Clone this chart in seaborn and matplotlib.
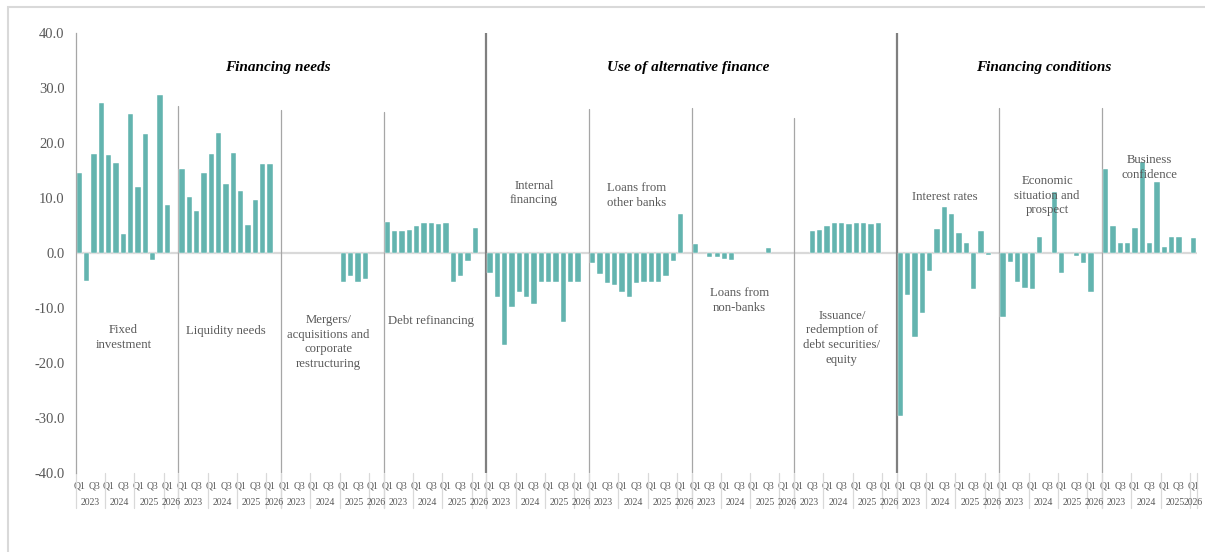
import numpy as np
import pandas as pd
import matplotlib
matplotlib.use("Agg")
import matplotlib.pyplot as plt
import matplotlib.transforms as mtransforms
from matplotlib.patches import Rectangle
import seaborn as sns

nan = np.nan

# quarters shown in every panel (Q1 2023 .. Q1 2026)
quarters = ["Q1", "Q2", "Q3", "Q4"] * 3 + ["Q1"]
years = ["2023", "2024", "2025", "2026"]

panel_names = [
    "Fixed\ninvestment",
    "Liquidity needs",
    "Mergers/\nacquisitions and\ncorporate\nrestructuring",
    "Debt refinancing",
    "Internal\nfinancing",
    "Loans from\nother banks",
    "Loans from\nnon-banks",
    "Issuance/\nredemption of\ndebt securities/\nequity",
    "Interest rates",
    "Economic\nsituation and\nprospect",
    "Business\nconfidence",
]
group_names = ["Financing needs", "Use of alternative finance", "Financing conditions"]

fixed_investment = [14.6, -5.0, 18.0, 27.2, 17.9, 16.4, 3.5, 25.3, 12.0, 21.7, -1.2, 28.7, 8.7]
liquidity_needs = [15.3, 10.2, 7.6, 14.5, 18.0, 21.8, 12.5, 18.2, 11.2, 5.1, 9.6, 16.1, 16.1]
mergers = [nan, nan, nan, nan, nan, nan, nan, nan, -5.3, -4.1, -5.3, -4.7, nan]
debt_refinancing = [5.7, 4.0, 4.0, 4.2, 5.0, 5.5, 5.5, 5.3, 5.5, -5.3, -4.2, -1.4, 4.5]
internal_financing = [-3.7, -8.0, -16.8, -9.8, -7.1, -8.0, -9.2, -5.2, -5.3, -5.3, -12.5, -5.3, -5.2]
other_banks = [-1.9, -3.9, -5.4, -5.9, -7.1, -8.0, -5.4, -5.2, -5.3, -5.3, -4.2, -1.4, 7.1]
non_banks = [1.7, nan, -0.7, -0.8, -1.1, -1.3, nan, nan, nan, nan, 1.0, nan, nan]
issuance = [nan, nan, 4.0, 4.1, 5.0, 5.5, 5.5, 5.3, 5.5, 5.5, 5.3, 5.5, nan]
interest_rates = [-29.7, -7.7, -15.2, -10.9, -3.3, 4.3, 8.3, 7.1, 3.6, 1.9, -6.5, 4.0, -0.3]
economic = [-11.7, -1.7, -5.2, -6.4, -6.5, 2.9, nan, 11.1, -3.7, nan, -0.6, -1.9, -7.1]
business = [15.2, 4.9, 1.75, 1.75, 4.6, 16.5, 1.9, 12.9, 1.1, 2.9, 2.9, nan, 2.7]

series = [fixed_investment, liquidity_needs, mergers, debt_refinancing,
          internal_financing, other_banks, non_banks, issuance,
          interest_rates, economic, business]

# layout of the labels (data units)
label_y = [-15.3, -14.2, -16.2, -12.4, 10.9, 10.5, -8.7, -15.4, 10.2, 10.4, 15.6]
divider_top = [26.7, 26.0, 25.6, 40, 26.1, 26.3, 24.6, 40, 26.3, 26.3]
bar_color = "#63b4af"
text_grey = "#595959"

# each panel = 13 quarters + one blank slot (not after the last panel)
n_panels = len(series)
step = 14
rows = []
order = []
for p, vals in enumerate(series):
    for q in range(13):
        key = f"p{p}_{q}"
        order.append(key)
        if not np.isnan(vals[q]):
            rows.append({"slot": key, "value": vals[q]})
    if p < n_panels - 1:
        order.append(f"gap{p}")
df = pd.DataFrame(rows)

sns.set_style("white")
plt.rcParams["font.family"] = ["Liberation Serif", "DejaVu Serif"]

fig = plt.figure(figsize=(12.05, 5.52), dpi=100)
ax = fig.add_axes([75.8 / 1205, 79 / 552, 1121.5 / 1205, 440 / 552])

ax.axhline(0, color="#d9d9d9", lw=1.6, zorder=0)
sns.barplot(data=df, x="slot", y="value", order=order, color=bar_color,
            width=0.72, errorbar=None, saturation=1, ax=ax, zorder=2,
            edgecolor="white", linewidth=0.3)

ax.set_ylim(-40, 40)
ax.set_xlim(-0.5, len(order) - 0.5)
ax.set_yticks(np.arange(-40, 41, 10))
ax.set_yticklabels([f"{v:.1f}" for v in np.arange(-40, 41, 10)])
ax.tick_params(axis="y", direction="in", length=4, color="#a6a6a6",
               labelsize=10.5, labelcolor=text_grey, pad=8)
ax.set_xlabel("")
ax.set_ylabel("")
for s in ["top", "right", "bottom"]:
    ax.spines[s].set_visible(False)
ax.spines["left"].set_color("#a6a6a6")
ax.spines["left"].set_linewidth(0.9)

# quarter tick labels (Q1, Q3 alternately)
qpos, qlab = [], []
for p in range(n_panels):
    for q in range(0, 13, 2):
        qpos.append(p * step + q)
        qlab.append(quarters[q])
ax.set_xticks(qpos)
ax.set_xticklabels(qlab)
ax.tick_params(axis="x", length=0, labelsize=7, labelcolor=text_grey, pad=6)

trans = mtransforms.blended_transform_factory(ax.transData, ax.transAxes)
for p in range(n_panels):
    base = p * step
    year_x = [base + 1.5, base + 5.5, base + 9.5, base + 12.5 if p < n_panels - 1 else base + 12]
    for yr, x in zip(years, year_x):
        ax.text(x, -0.068, yr, transform=trans, ha="center", va="center",
                fontsize=7, color=text_grey)
    for b in [base - 0.5, base + 3.5, base + 7.5, base + 11.5]:
        ax.plot([b, b], [0, -0.08], transform=trans, color="#d9d9d9", lw=0.9, clip_on=False)
    # panel label
    ax.text(base + 6, label_y[p], panel_names[p], ha="center", va="center",
            fontsize=9.2, color=text_grey, linespacing=1.3, zorder=3)
ax.plot([len(order) - 0.5] * 2, [0, -0.08], transform=trans, color="#d9d9d9", lw=0.9, clip_on=False)

# panel dividers
for p in range(1, n_panels):
    x = p * step - 0.5
    top = divider_top[p - 1]
    major = top >= 40
    ax.plot([x, x], [-40, top], color="#7f7f7f" if major else "#a6a6a6",
            lw=1.6 if major else 0.9, zorder=1)
    ax.plot([x, x], [0, -0.08], transform=trans, color="#d9d9d9", lw=0.9, clip_on=False)

# group titles
group_span = [(-0.5, 4 * step - 0.5), (4 * step - 0.5, 8 * step - 0.5), (8 * step - 0.5, len(order) - 0.5)]
for name, (a, b) in zip(group_names, group_span):
    ax.text((a + b) / 2 - 0.5, 33.8, name, ha="center", va="center", fontsize=11,
            fontweight="bold", fontstyle="italic", color="black")

fig.add_artist(Rectangle((8 / 1205, -0.02), 1.0, 1 - 7 / 552 + 0.02, fill=False,
                         edgecolor="#d9d9d9", lw=1.5, transform=fig.transFigure))

fig.savefig("out.png", dpi=100)
